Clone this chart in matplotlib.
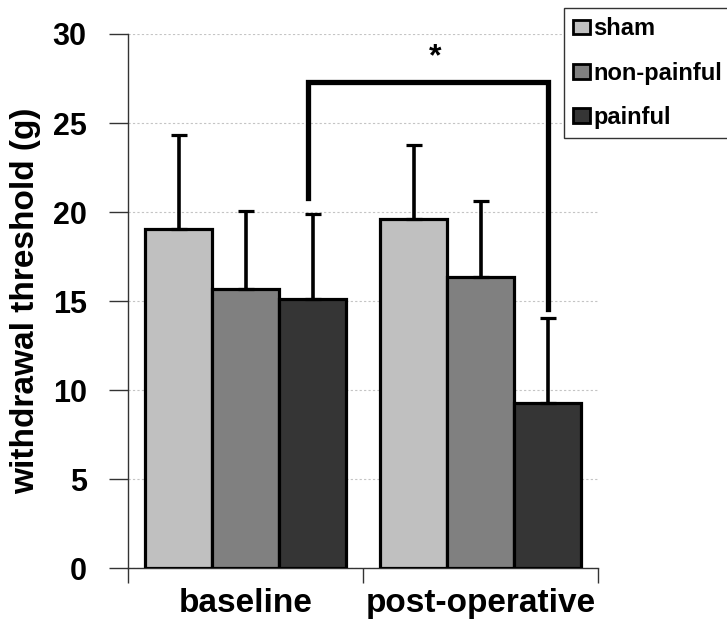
import matplotlib
matplotlib.use("Agg")
import matplotlib.pyplot as plt
from matplotlib.patches import Patch
import numpy as np

plt.rcParams['font.family'] = ['Liberation Sans', 'DejaVu Sans']

# group means and SD (g)
conditions = ['baseline', 'post-operative']
groups = ['sham', 'non-painful', 'painful']
colors = ['#c0c0c0', '#808080', '#353535']
means = {
    'sham': [19.03, 19.61],
    'non-painful': [15.67, 16.34],
    'painful': [15.12, 9.28],
}
sds = {
    'sham': [5.32, 4.14],
    'non-painful': [4.41, 4.30],
    'painful': [4.79, 4.76],
}
# significance bracket: baseline painful vs post-operative painful
bracket_x = [0.266, 1.287]
bracket_bottoms = [20.77, 14.56]
bracket_top = 27.32

fig = plt.figure(figsize=(7.27, 6.21), dpi=100)
ax = fig.add_axes([0.1765, 0.0849, 0.6465, 0.8604])

x = np.arange(len(conditions))
width = 0.285
for i, g in enumerate(groups):
    pos = x + (i - 1) * width
    ax.bar(pos, means[g], width, color=colors[i], edgecolor='black',
           linewidth=2.3, label=g, zorder=3)
    ax.errorbar(pos, means[g], yerr=[np.zeros(len(x)), sds[g]], fmt='none',
                ecolor='black', elinewidth=2.6, capsize=6, capthick=2.3,
                zorder=4)

ax.plot([bracket_x[0], bracket_x[0], bracket_x[1], bracket_x[1]],
        [bracket_bottoms[0], bracket_top, bracket_top, bracket_bottoms[1]],
        color='black', linewidth=3.8, solid_joinstyle='miter', zorder=5)
ax.text(np.mean(bracket_x) + 0.03, bracket_top + 0.55, '*', ha='center',
        va='bottom', fontsize=23, fontweight='bold')

ax.set_xlim(-0.5, 1.5)
ax.set_ylim(0, 30)
ax.set_yticks(np.arange(0, 31, 5))
ax.yaxis.grid(True, color='#c4c4c4', linestyle=(0, (2, 2)), linewidth=0.8)
ax.set_axisbelow(True)

ax.set_xticks(x)
ax.set_xticklabels(conditions, fontsize=24, fontweight='bold')
ax.set_xticks([-0.5, 0.5, 1.5], minor=True)
ax.tick_params(axis='x', which='major', length=0, pad=14)
ax.tick_params(axis='x', which='minor', length=11, width=1, color='#333333')
ax.tick_params(axis='y', length=14, width=1, color='#333333', pad=16)
for lab in ax.get_yticklabels():
    lab.set_fontsize(22)
    lab.set_fontweight('bold')

ax.set_ylabel('withdrawal threshold (g)', fontsize=24, fontweight='bold',
              labelpad=8)

for s in ['top', 'right']:
    ax.spines[s].set_visible(False)
for s in ['left', 'bottom']:
    ax.spines[s].set_color('#333333')
    ax.spines[s].set_linewidth(1)

handles = [Patch(facecolor=c, edgecolor='black', linewidth=2) for c in colors]
leg = fig.legend(handles, groups, loc='upper left',
                 bbox_to_anchor=(564 / 727, 1 - 8 / 621),
                 prop={'size': 17, 'weight': 'bold'}, frameon=True,
                 fancybox=False, edgecolor='#333333', framealpha=1,
                 handlelength=0.7, handleheight=0.56, handletextpad=0.14,
                 labelspacing=0.9, borderpad=0.4, borderaxespad=0)
leg.get_frame().set_linewidth(1)

fig.savefig('out.png', dpi=100)
